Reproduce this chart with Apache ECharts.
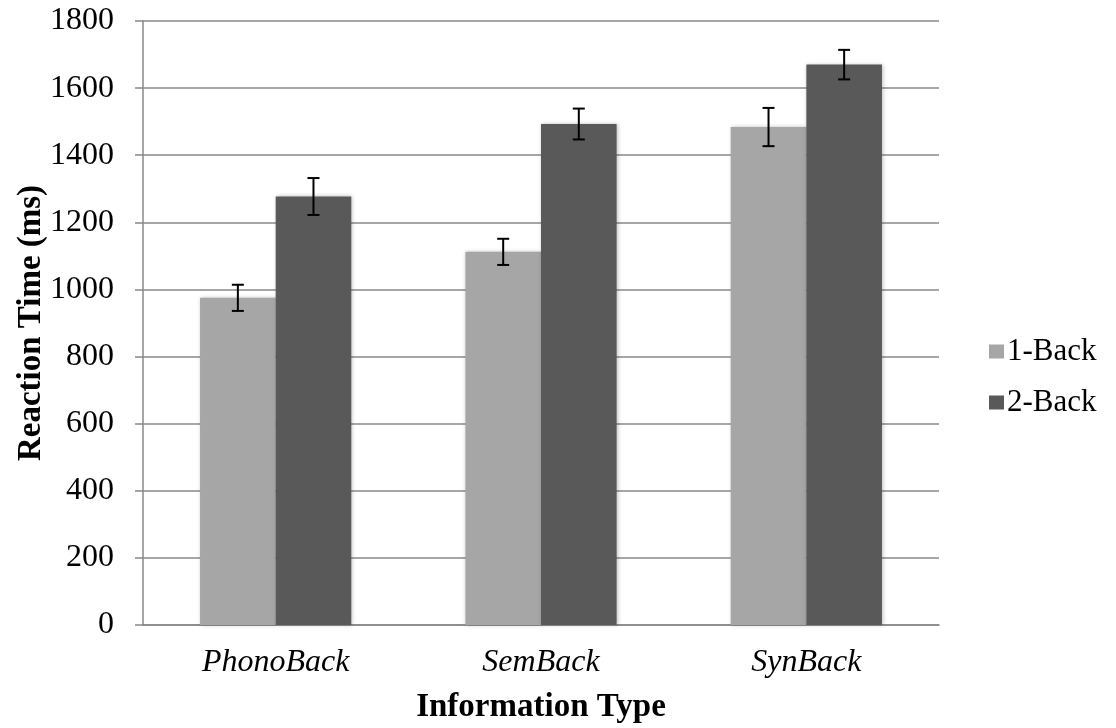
<!DOCTYPE html>
<html>
<head>
<meta charset="utf-8">
<script src="https://cdn.jsdelivr.net/npm/echarts@6/dist/echarts.min.js"></script>
<style>
  html, body { margin: 0; padding: 0; background: #fff; }
  #chart { width: 1116px; height: 728px; }
</style>
</head>
<body>
<div id="chart"></div>
<script>
// categories and values
var categories = ['PhonoBack', 'SemBack', 'SynBack'];
var oneBack = [975, 1112, 1484];
var twoBack = [1277, 1493, 1670];
var oneBackErr = [39, 39, 57];
var twoBackErr = [55, 46, 44];

var GAP = 0.43; // barCategoryGap

function errorSeries(name, values, errs, side) {
  return {
    name: name + ' err',
    type: 'custom',
    z: 5,
    silent: true,
    data: values.map(function (v, i) { return [i, v - errs[i], v + errs[i]]; }),
    renderItem: function (params, api) {
      var band = api.size([1, 0])[0];
      var off = side * band * (1 - GAP) / 4;
      var lo = api.coord([api.value(0), api.value(1)]);
      var hi = api.coord([api.value(0), api.value(2)]);
      var x = lo[0] + off;
      var cap = 6;
      var style = { stroke: '#000', lineWidth: 2 };
      return {
        type: 'group',
        children: [
          { type: 'line', shape: { x1: x, y1: lo[1], x2: x, y2: hi[1] }, style: style },
          { type: 'line', shape: { x1: x - cap, y1: lo[1], x2: x + cap, y2: lo[1] }, style: style },
          { type: 'line', shape: { x1: x - cap, y1: hi[1], x2: x + cap, y2: hi[1] }, style: style }
        ]
      };
    }
  };
}

var chart = echarts.init(document.getElementById('chart'));
chart.setOption({
  animation: false,
  textStyle: { fontFamily: 'Liberation Serif' },
  grid: { left: 143, right: 177, top: 21, bottom: 103, outerBoundsMode: 'none' },
  legend: {
    orient: 'vertical',
    left: 984,
    top: 331,
    itemWidth: 15,
    itemHeight: 14,
    itemGap: 20,
    icon: 'rect',
    data: ['1-Back', '2-Back'],
    textStyle: { fontFamily: 'Liberation Serif', fontSize: 31, color: '#000', padding: [0, 0, 0, -2] }
  },
  xAxis: {
    type: 'category',
    data: categories,
    name: 'Information Type',
    nameLocation: 'middle',
    nameGap: 66,
    nameMoveOverlap: false,
    nameTextStyle: { fontFamily: 'Liberation Serif', fontSize: 33, fontWeight: 'bold', color: '#000' },
    axisLine: { lineStyle: { color: '#888', width: 1.5 } },
    axisTick: { length: 10, lineStyle: { color: '#888', width: 1.5 } },
    axisLabel: { fontFamily: 'Liberation Serif', fontSize: 32, fontStyle: 'italic', color: '#000', margin: 22 }
  },
  yAxis: {
    type: 'value',
    min: 0,
    max: 1800,
    interval: 200,
    name: 'Reaction Time (ms)',
    nameLocation: 'middle',
    nameGap: 95,
    nameMoveOverlap: false,
    nameTextStyle: { fontFamily: 'Liberation Serif', fontSize: 33, fontWeight: 'bold', color: '#000' },
    axisLine: { show: true, lineStyle: { color: '#888', width: 1.5 } },
    axisTick: { show: true, length: 8, lineStyle: { color: '#888', width: 1.5 } },
    axisLabel: {
      fontFamily: 'Liberation Serif', fontSize: 32, color: '#000', margin: 29,
      formatter: function (v) { return String(v); }
    },
    splitLine: { lineStyle: { color: '#888', width: 1.5 } }
  },
  series: [
    {
      name: '1-Back',
      type: 'bar',
      data: oneBack,
      barGap: '0%',
      barCategoryGap: (GAP * 100) + '%',
      itemStyle: { color: '#a6a6a6', shadowBlur: 4, shadowColor: 'rgba(0,0,0,0.25)', shadowOffsetX: 1 }
    },
    {
      name: '2-Back',
      type: 'bar',
      data: twoBack,
      barGap: '0%',
      barCategoryGap: (GAP * 100) + '%',
      itemStyle: { color: '#595959', shadowBlur: 4, shadowColor: 'rgba(0,0,0,0.25)', shadowOffsetX: 1 }
    },
    errorSeries('1-Back', oneBack, oneBackErr, -1),
    errorSeries('2-Back', twoBack, twoBackErr, 1)
  ]
});
</script>
</body>
</html>
